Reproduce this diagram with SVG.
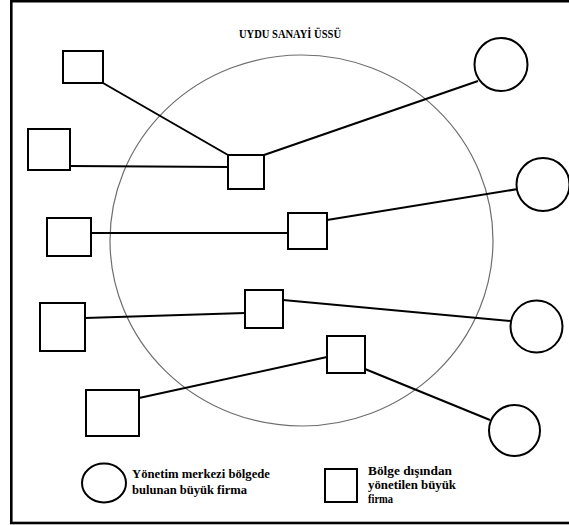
<svg xmlns="http://www.w3.org/2000/svg" width="569" height="525" viewBox="0 0 569 525">
<style>
.n{fill:#fff;stroke:#000;stroke-width:2}
.c{stroke:#000;stroke-width:2;fill:none}
.t{font-family:"Liberation Serif","Times New Roman",serif;font-weight:bold;fill:#000}
</style>
<rect x="0" y="0" width="569" height="525" fill="#fff"/>
<rect x="11.3" y="1.2" width="600" height="521.8" fill="none" stroke="#000" stroke-width="2.6"/>
<text class="t" x="290" y="37.5" font-size="12" text-anchor="middle" textLength="102" lengthAdjust="spacingAndGlyphs">UYDU SANAYİ ÜSSÜ</text>
<ellipse id="region" cx="301.5" cy="240.5" rx="191.5" ry="185.5" fill="none" stroke="#6e6e6e" stroke-width="1.2"/>
<g id="connectors">
<line class="c" x1="103" y1="83" x2="228" y2="155"/>
<line class="c" x1="70" y1="166" x2="228" y2="167"/>
<line class="c" x1="264" y1="155" x2="478" y2="81"/>
<line class="c" x1="91" y1="233" x2="288" y2="233"/>
<line class="c" x1="327" y1="220" x2="518" y2="189"/>
<line class="c" x1="85" y1="318" x2="245" y2="313"/>
<line class="c" x1="283" y1="300" x2="511" y2="321"/>
<line class="c" x1="327" y1="357" x2="139" y2="398"/>
<line class="c" x1="365" y1="369" x2="490" y2="420"/>
</g>
<g id="s1"><rect class="n" x="63" y="51" width="40" height="32"/></g>
<g id="s2"><rect class="n" x="28" y="129" width="42" height="41"/></g>
<g id="s3"><rect class="n" x="228" y="155" width="36" height="34"/></g>
<g id="s4"><rect class="n" x="47" y="218" width="44" height="38"/></g>
<g id="s5"><rect class="n" x="288" y="213" width="39" height="36"/></g>
<g id="s6"><rect class="n" x="40" y="303" width="45" height="48"/></g>
<g id="s7"><rect class="n" x="245" y="290" width="38" height="38"/></g>
<g id="s8"><rect class="n" x="327" y="336" width="38" height="37"/></g>
<g id="s9"><rect class="n" x="86" y="390" width="53" height="46"/></g>
<g id="c1"><circle class="n" cx="501" cy="64.5" r="26.5"/></g>
<g id="c2"><circle class="n" cx="543" cy="184.5" r="26.5"/></g>
<g id="c3"><circle class="n" cx="536.5" cy="326.5" r="26"/></g>
<g id="c4"><circle class="n" cx="514.5" cy="430.5" r="25.5"/></g>
<g id="legend-circle">
<ellipse class="n" cx="104" cy="483" rx="22" ry="19.5"/>
<text class="t" font-size="13"><tspan x="132" y="477.5" textLength="138" lengthAdjust="spacingAndGlyphs">Yönetim merkezi bölgede</tspan><tspan x="132" y="493.5" textLength="115" lengthAdjust="spacingAndGlyphs">bulunan büyük firma</tspan></text>
</g>
<g id="legend-square">
<rect class="n" x="325" y="469" width="32" height="33"/>
<text class="t" font-size="13"><tspan x="368" y="475" textLength="84" lengthAdjust="spacingAndGlyphs">Bölge dışından</tspan><tspan x="368" y="489" textLength="88" lengthAdjust="spacingAndGlyphs">yönetilen büyük</tspan><tspan x="368" y="503" textLength="25" lengthAdjust="spacingAndGlyphs">firma</tspan></text>
</g>
</svg>
